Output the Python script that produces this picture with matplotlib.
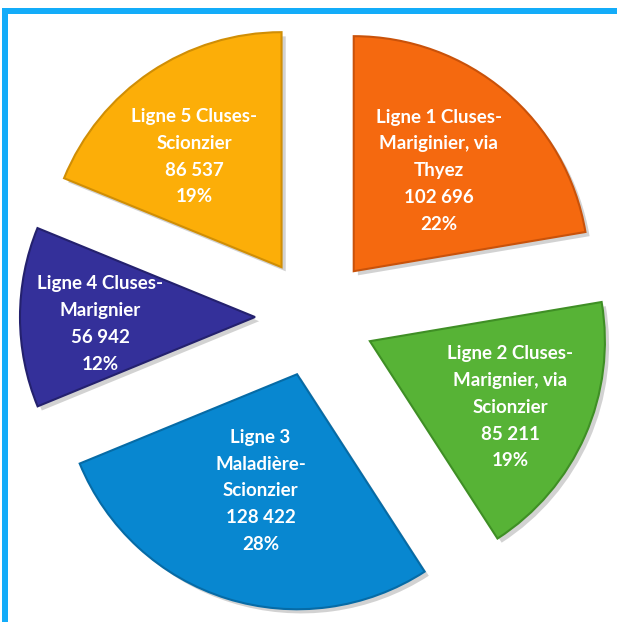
import numpy as np
import matplotlib
matplotlib.use("Agg")
import matplotlib.pyplot as plt
import matplotlib.patheffects as pe
from matplotlib.patches import Rectangle

# data
names = [
    "Ligne 1 Cluses-\nMariginier, via\nThyez",
    "Ligne 2 Cluses-\nMarignier, via\nScionzier",
    "Ligne 3\nMaladière-\nScionzier",
    "Ligne 4 Cluses-\nMarignier",
    "Ligne 5 Cluses-\nScionzier",
]
values = [102696, 85211, 128422, 56942, 86537]
colors = ["#F5690F", "#57B336", "#0887D0", "#34309A", "#FCAE08"]
edge_colors = ["#C9520A", "#3F8F25", "#066BA6", "#24216E", "#D08E05"]
# label placement inside each slice (fraction of radius, angle tweak in deg)
label_dist = [0.56, 0.66, 0.52, 0.66, 0.60]
label_rot = [0, -1.5, 0, 2.5, 4.5]

W, H = 617, 622
fig = plt.figure(figsize=(W / 100, H / 100), dpi=100)
ax = fig.add_axes([0, 0, 1, 1])

R = 235
cx, cy = 315, H - 317
wedges, _ = ax.pie(
    values,
    radius=R,
    center=(cx, cy),
    startangle=90,
    counterclock=False,
    colors=colors,
    explode=[60] * len(values),  # pie's explode is in data units
    wedgeprops=dict(linewidth=1.5),
)

total = sum(values)
for i, w in enumerate(wedges):
    w.set_edgecolor(edge_colors[i])
    w.set_path_effects([
        pe.SimplePatchShadow(offset=(3, -3), shadow_rgbFace="#808080", alpha=0.35),
        pe.Normal(),
    ])
    th = np.deg2rad((w.theta1 + w.theta2) / 2 + label_rot[i])
    x0, y0 = w.center
    tx = x0 + R * label_dist[i] * np.cos(th)
    ty = y0 + R * label_dist[i] * np.sin(th)
    v = values[i]
    pct = round(v / total * 100)
    num = f"{v:,}".replace(",", " ")
    txt = f"{names[i]}\n{num}\n{pct}%"
    ax.text(tx, ty, txt, ha="center", va="center", multialignment="center",
            color="white", fontsize=13.5, fontweight="bold", family="Lato",
            linespacing=1.7)

ax.set_xlim(0, W)
ax.set_ylim(0, H)
ax.set_aspect("equal")
ax.axis("off")

# blue frame lines at the top and on the left
border = "#13ACF9"
fig.patches.append(Rectangle((2, H - 14), W - 2, 6, transform=None,
                             facecolor=border, edgecolor="none"))
fig.patches.append(Rectangle((2, 0), 6, H - 8, transform=None,
                             facecolor=border, edgecolor="none"))

fig.savefig("out.png", dpi=100)
